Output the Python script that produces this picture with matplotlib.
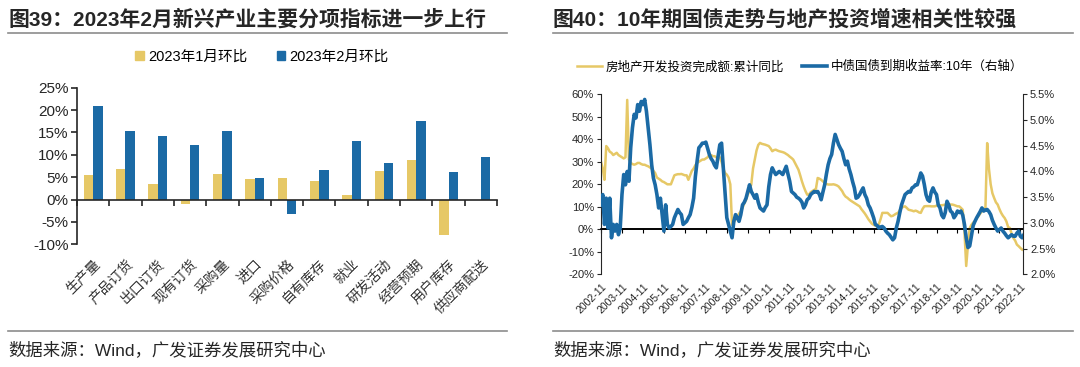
import matplotlib
matplotlib.use("Agg")
import matplotlib.pyplot as plt
from matplotlib.patches import Patch
from matplotlib.lines import Line2D
import numpy as np

plt.rcParams['font.family'] = ['Liberation Sans', 'Noto Sans CJK SC', 'DejaVu Sans']
plt.rcParams['axes.unicode_minus'] = False

# ---- 图39 data ----
categories = ['生产量', '产品订货', '出口订货', '现有订货', '采购量', '进口', '采购价格',
              '自有库存', '就业', '研发活动', '经营预期', '用户库存', '供应商配送']
jan_mom = [5.4, 6.9, 3.4, -0.9, 5.7, 4.7, 4.85, 4.1, 1.0, 6.3, 8.9, -8.0, 0.0]
feb_mom = [20.9, 15.4, 14.2, 12.2, 15.4, 4.9, -3.2, 6.6, 13.1, 8.1, 17.5, 6.1, 9.6]

# ---- 图40 data (monthly, starting 2002-11) ----
invest_yoy = [
    30, 27, 22, 37, 36, 34.5, 34, 33, 33.5, 34, 33, 32.5,
    32, 31.5, 32, 57.5, 31, 29.5, 29, 28.7, 29, 29.5, 29.5, 29,
    28.7, 28.7, 28.3, 28, 27.5, 27, 26, 25, 23, 22.5, 22, 21.3,
    21, 20.5, 20, 20, 20, 22, 24, 24.3, 24.5, 24.5, 24.6, 24.3,
    24, 24, 22, 24, 26, 27, 28.5, 29.5, 30, 30.5, 31, 31,
    31.5, 32, 33, 33, 32.5, 32.5, 32, 31.7, 32, 30, 27, 25,
    24.3, 23, 20, 2, 3, 4.5, 5.5, 7, 8, 9.5, 11.5, 13,
    15.5, 17, 20, 27, 31, 35, 37.5, 38.4, 38, 37.8, 37.6, 37.3,
    37, 36, 34.7, 35.2, 35.4, 35, 34.7, 34.5, 34.3, 34, 33.5, 33,
    32.3, 31.7, 31, 29.5, 28, 26.5, 24, 21.3, 19, 17, 15.4, 15.4,
    16.5, 17, 17.5, 18, 22.8, 22.5, 22, 21.3, 20.6, 20.2, 19.9, 19.9,
    19.9, 20, 19.8, 19.5, 19, 18, 17, 15.5, 14.5, 14, 13.3, 12.7,
    12.2, 11.7, 11.2, 10.7, 10.2, 9, 8, 7, 5.8, 4.5, 3.5, 2.5,
    2, 1.6, 1.3, 2.3, 4.5, 7.3, 7.3, 7.3, 7.3, 6.5, 5.8, 6,
    6.5, 7, 7.3, 8.5, 9.5, 10, 10.2, 9.5, 8.7, 8.5, 8.3, 8,
    8.3, 8, 7.5, 7.3, 9, 10.2, 10.3, 10.3, 10.3, 10.2, 10.2, 10.2,
    10.5, 10.7, 10.7, 10.7, 10.8, 11, 11, 11, 11, 11, 10.8, 10.5,
    10.2, 10.2, 9.5, 8.7, -1, -16.3, -7, 0.5, 2, 3, 3.5, 5,
    5.8, 7, 8, 9, 9.5, 38.3, 27, 20, 16, 13.9, 12, 11,
    9, 7.3, 6, 5, 3.5, 1, 0.6, -2, -3.9, -5, -6.8, -7.5,
    -8.3, -9,
]
bond_10y = [
    3.35, 3.55, 2.97, 3.48, 2.90, 3.48, 2.71, 2.97, 2.84, 2.97, 2.77, 2.90,
    3.55, 3.94, 3.74, 4.00, 3.81, 4.46, 4.85, 5.11, 5.04, 5.30, 5.17, 5.36,
    5.30, 5.40, 5.17, 4.85, 4.52, 4.13, 3.87, 3.74, 3.55, 3.29, 3.48, 3.16,
    2.84, 3.35, 2.97, 2.90, 2.93, 2.97, 3.10, 3.18, 3.26, 3.20, 3.16, 2.97,
    3.00, 3.03, 3.10, 3.16, 3.30, 3.48, 3.90, 4.20, 4.46, 4.50, 4.55, 4.55,
    4.57, 4.45, 4.33, 4.25, 4.20, 4.12, 4.07, 4.30, 4.52, 4.55, 4.07, 3.61,
    3.10, 2.97, 2.84, 2.71, 3.03, 3.16, 3.10, 3.03, 3.16, 3.35, 3.40, 3.48,
    3.61, 3.74, 3.61, 3.55, 3.48, 3.55, 3.40, 3.29, 3.26, 3.23, 3.30, 3.35,
    3.70, 3.94, 4.07, 4.00, 3.94, 3.97, 4.00, 3.97, 3.94, 4.02, 4.10, 3.95,
    3.81, 3.61, 3.58, 3.55, 3.50, 3.48, 3.45, 3.40, 3.29, 3.35, 3.45, 3.48,
    3.55, 3.58, 3.61, 3.60, 3.61, 3.55, 3.45, 3.60, 3.74, 3.95, 4.13, 4.25,
    4.33, 4.55, 4.72, 4.62, 4.52, 4.45, 4.39, 4.25, 4.13, 4.20, 4.05, 3.94,
    3.80, 3.68, 3.48, 3.50, 3.55, 3.62, 3.68, 3.55, 3.48, 3.35, 3.29, 3.20,
    3.10, 2.97, 2.95, 2.90, 2.92, 2.93, 2.90, 2.84, 2.80, 2.77, 2.72, 2.67,
    2.71, 2.90, 3.03, 3.20, 3.35, 3.45, 3.55, 3.58, 3.61, 3.60, 3.68, 3.70,
    3.74, 3.74, 3.85, 3.97, 3.91, 3.75, 3.55, 3.45, 3.42, 3.60, 3.68, 3.60,
    3.55, 3.35, 3.29, 3.15, 3.10, 3.20, 3.42, 3.35, 3.23, 3.20, 3.10, 3.15,
    3.23, 3.20, 3.23, 3.15, 2.97, 2.71, 2.52, 2.55, 2.75, 2.95, 3.03, 3.10,
    3.16, 3.22, 3.29, 3.23, 3.25, 3.26, 3.22, 3.16, 3.05, 2.97, 2.90, 2.84,
    2.87, 2.90, 2.84, 2.80, 2.75, 2.71, 2.74, 2.77, 2.74, 2.74, 2.80, 2.84,
    2.74, 2.71, 2.77,
]
year_labels = [f'{y}-11' for y in range(2002, 2023)]

YELLOW = '#E6C866'
BLUE = '#1B6AA5'
TXT = '#262626'

W, H = 1080, 367
fig = plt.figure(figsize=(W / 100, H / 100), dpi=100)


def px(x0, y0, x1, y1):
    # pixel box -> figure fraction rect
    return [x0 / W, 1 - y1 / H, (x1 - x0) / W, (y1 - y0) / H]


# titles, rules, sources
fig.text(8 / W, 1 - 19 / H, '图39：2023年2月新兴产业主要分项指标进一步上行',
         fontsize=15, fontweight='bold', color=TXT, va='center', ha='left')
fig.text(553 / W, 1 - 19 / H, '图40：10年期国债走势与地产投资增速相关性较强',
         fontsize=15, fontweight='bold', color=TXT, va='center', ha='left')
for xa, xb in [(8, 507), (553, 1073)]:
    for yy in (33, 331):
        fig.add_artist(Line2D([xa / W, xb / W], [1 - yy / H, 1 - yy / H],
                              color='#8c8c8c', lw=1.2))
    fig.text(xa / W, 1 - 350 / H, '数据来源：Wind，广发证券发展研究中心',
             fontsize=12.5, color=TXT, va='center', ha='left')

# ---- left: bar chart ----
ax = fig.add_axes(px(77, 87.7, 497, 244.3))
x = np.arange(len(categories))
bw = 0.29
ax.bar(x - bw / 2, jan_mom, bw, color=YELLOW, label='2023年1月环比')
ax.bar(x + bw / 2, feb_mom, bw, color=BLUE, label='2023年2月环比')
ax.set_xlim(-0.5, len(categories) - 0.5)
ax.set_ylim(-10, 25)
ax.set_yticks(range(-10, 26, 5))
ax.set_yticklabels([f'{v}%' for v in range(-10, 26, 5)], fontsize=11, color=TXT)
for s in ('top', 'right'):
    ax.spines[s].set_visible(False)
ax.spines['left'].set_linewidth(1.2)
ax.spines['left'].set_color(TXT)
ax.spines['bottom'].set_position(('data', 0))
ax.spines['bottom'].set_linewidth(1.2)
ax.spines['bottom'].set_color(TXT)
ax.tick_params(axis='y', length=4, width=1.2, color=TXT, pad=2)
ax.set_xticks(np.arange(len(categories) + 1) - 0.5)
ax.tick_params(axis='x', length=4, width=1.2, color=TXT, labelbottom=False)
sec = ax.secondary_xaxis('bottom')
sec.set_xticks(x)
sec.set_xticklabels(categories, rotation=45, ha='right', rotation_mode='anchor',
                    fontsize=10, color='#333333')
sec.tick_params(length=0, pad=9)
sec.spines['bottom'].set_visible(False)
fig.legend(handles=[Patch(color=YELLOW), Patch(color=BLUE)],
           labels=['2023年1月环比', '2023年2月环比'],
           loc='center', bbox_to_anchor=(262 / W, 1 - 57 / H), ncol=2,
           frameon=False, fontsize=10.5, handlelength=0.6, handleheight=0.6,
           handletextpad=0.3, columnspacing=2.0)

# ---- right: dual-axis lines ----
ax2 = fig.add_axes(px(601, 94.3, 1023, 274.3))
m_inv = np.arange(len(invest_yoy))
m_bond = np.arange(len(bond_10y))
ln1, = ax2.plot(m_inv, invest_yoy, color=YELLOW, lw=1.8)
ax2.set_ylim(-20, 60)
ax2.set_xlim(0, 241.5)
ax2.set_yticks(range(-20, 61, 10))
ax2.set_yticklabels([f'{v}%' for v in range(-20, 61, 10)], fontsize=8, color=TXT)
ax2.axhline(0, color='black', lw=1.2, zorder=1)
for s in ('top', 'right'):
    ax2.spines[s].set_visible(False)
ax2.spines['bottom'].set_position(('data', 0))
ax2.spines['bottom'].set_color('black')
ax2.spines['bottom'].set_linewidth(1.2)
ax2.spines['left'].set_color(TXT)
ax2.set_xticks(np.arange(0, 241, 12))
ax2.tick_params(axis='x', length=3, color='black', labelbottom=False)
ax2.tick_params(axis='y', length=3, color=TXT, pad=2)
sec2 = ax2.secondary_xaxis('bottom')
sec2.set_xticks(np.arange(0, 241, 12))
sec2.set_xticklabels(year_labels, rotation=45, ha='right', rotation_mode='anchor',
                     fontsize=7.5, color=TXT)
sec2.tick_params(length=0, pad=5)
sec2.spines['bottom'].set_visible(False)

ax3 = ax2.twinx()
ln2, = ax3.plot(m_bond, bond_10y, color=BLUE, lw=2.6)
ax3.set_ylim(2.0, 5.5)
ax3.set_yticks(np.arange(2.0, 5.51, 0.5))
ax3.set_yticklabels([f'{v:.1f}%' for v in np.arange(2.0, 5.51, 0.5)], fontsize=8, color=TXT)
for s in ('top', 'left', 'bottom'):
    ax3.spines[s].set_visible(False)
ax3.spines['right'].set_color(TXT)
ax3.tick_params(axis='y', length=3, color=TXT, pad=2)

fig.legend(handles=[ln1, ln2],
           labels=['房地产开发投资完成额:累计同比', '中债国债到期收益率:10年（右轴）'],
           loc='center', bbox_to_anchor=(800 / W, 1 - 67 / H), ncol=2,
           frameon=False, fontsize=9, handlelength=2.0, handletextpad=0.3,
           columnspacing=1.5)

fig.savefig('out.png', dpi=100, facecolor='white')
